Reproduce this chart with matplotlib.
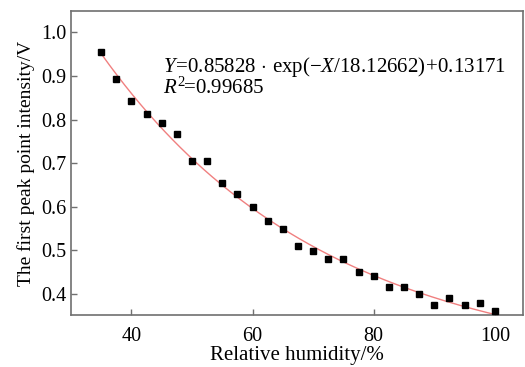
import numpy as np
import matplotlib.pyplot as plt

plt.rcParams["font.family"] = ["Liberation Serif", "DejaVu Serif"]
plt.rcParams["mathtext.fontset"] = "custom"
plt.rcParams["mathtext.rm"] = "Liberation Serif"
plt.rcParams["mathtext.it"] = "Liberation Serif:italic"

# relative humidity (%) and first peak point intensity (V)
humidity = [35, 37.5, 40, 42.5, 45, 47.5, 50, 52.5, 55, 57.5, 60, 62.5, 65, 67.5,
            70, 72.5, 75, 77.5, 80, 82.5, 85, 87.5, 90, 92.5, 95, 97.5, 100]
intensity = [0.955, 0.892, 0.842, 0.812, 0.792, 0.767, 0.705, 0.705, 0.655, 0.630,
             0.599, 0.567, 0.549, 0.511, 0.499, 0.480, 0.480, 0.450, 0.441, 0.417,
             0.417, 0.399, 0.374, 0.392, 0.374, 0.380, 0.361]

x = np.array(humidity)
y = np.array(intensity)

# exponential decay fit y = a*exp(-x/t) + c (least squares over t)
best = None
for t in np.linspace(5, 200, 2000):
    m = np.column_stack([np.exp(-x / t), np.ones_like(x)])
    coef, res, _, _ = np.linalg.lstsq(m, y, rcond=None)
    err = np.sum((m @ coef - y) ** 2)
    if best is None or err < best[0]:
        best = (err, t, coef)
_, t_fit, (a_fit, c_fit) = best
xf = np.linspace(x.min(), x.max(), 200)
yf = a_fit * np.exp(-xf / t_fit) + c_fit

fig = plt.figure(figsize=(5.25, 3.67), dpi=100)
ax = fig.add_axes([0.135, 0.1417, 0.8607, 0.8283])

ax.plot(xf, yf, color="#f08080", lw=1.0, zorder=2)
ax.plot(x, y, "s", color="black", ms=5, zorder=3)

ax.set_xlim(30, 104.6)
ax.set_ylim(0.352, 1.049)
ax.set_xticks([40, 60, 80, 100])
ax.set_yticks([0.4, 0.5, 0.6, 0.7, 0.8, 0.9, 1.0])
ax.set_yticklabels(["0.4", "0.5", "0.6", "0.7", "0.8", "0.9", "1.0"])

for s in ax.spines.values():
    s.set_color("#707070")
    s.set_linewidth(1.2)
ax.tick_params(direction="in", length=4, width=1, color="#707070",
               labelsize=14.5)
ax.tick_params(axis="x", pad=9)
ax.tick_params(axis="y", pad=3)

ax.set_xlabel("Relative humidity/%", fontsize=15, labelpad=0)
ax.set_ylabel("The first peak point intensity/V", fontsize=14, labelpad=5)

ax.text(0.204, 0.80,
        r"$\mathit{Y}\!=\!0.85828\,\cdot\,\mathrm{exp}(-\mathit{X}/18.12662)\!+\!0.13171$",
        transform=ax.transAxes, fontsize=15, ha="left", va="baseline")
ax.text(0.204, 0.728, r"$\mathit{R}^{2}\!\!=\!0.99685$",
        transform=ax.transAxes, fontsize=15, ha="left", va="baseline")

fig.savefig("out.png", dpi=100)
